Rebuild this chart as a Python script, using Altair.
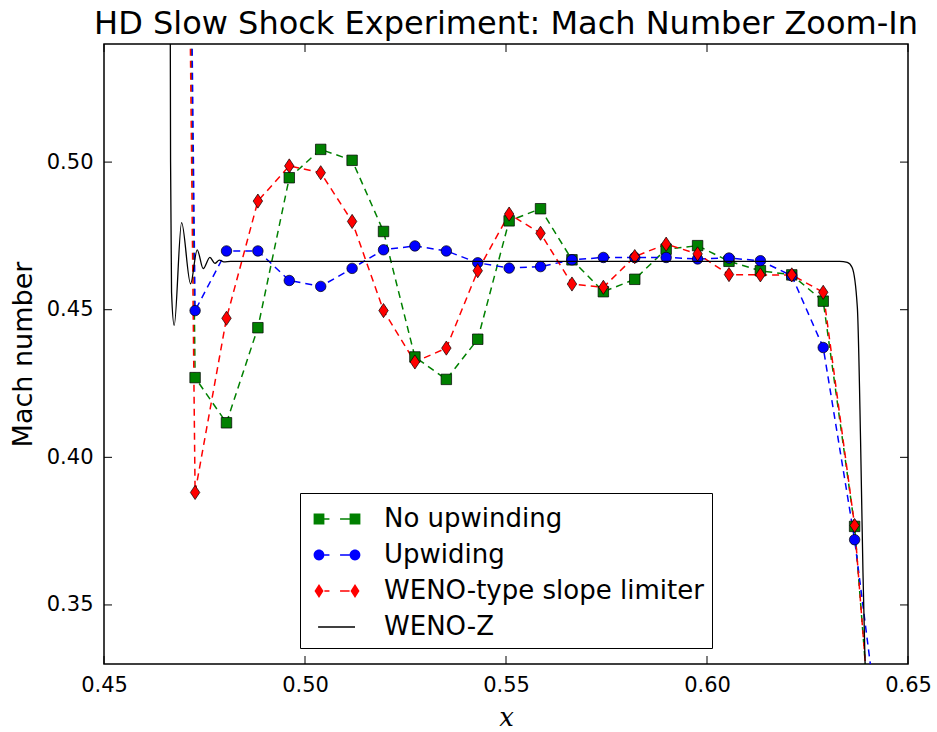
import altair as alt
import pandas as pd

# ---------------- data ----------------
x_grid = [0.46484, 0.47266, 0.48047, 0.48828, 0.49609, 0.50391, 0.51172, 0.51953,
          0.52734, 0.53516, 0.54297, 0.55078, 0.55859, 0.56641, 0.57422, 0.58203,
          0.58984, 0.59766, 0.60547, 0.61328, 0.62109, 0.62891, 0.63672, 0.64453]

no_upwinding = [1.40, 0.4270, 0.4117, 0.4439, 0.4947, 0.5043, 0.5006, 0.4765,
                0.4340, 0.4264, 0.4400, 0.4801, 0.4842, 0.4669, 0.4561, 0.4603,
                0.4705, 0.4717, 0.4664, 0.4632, 0.4618, 0.4529, 0.3766, 0.2400]

upwinding = [1.40, 0.4497, 0.4699, 0.4699, 0.4599, 0.4579, 0.4640, 0.4703,
             0.4716, 0.4699, 0.4659, 0.4641, 0.4646, 0.4669, 0.4677, 0.4677,
             0.4677, 0.4672, 0.4675, 0.4666, 0.4615, 0.4372, 0.3721, 0.2880]

weno_limiter = [1.40, 0.3881, 0.4471, 0.4868, 0.4987, 0.4964, 0.4799, 0.4497,
                0.4323, 0.4370, 0.4632, 0.4824, 0.4759, 0.4587, 0.4576, 0.4680,
                0.4722, 0.4689, 0.4619, 0.4618, 0.4618, 0.4559, 0.3769, 0.2400]

wenoz_x = [0.46640, 0.46656, 0.46680, 0.46746, 0.46930, 0.47154, 0.47318, 0.47468,
           0.47634, 0.47759, 0.47870, 0.47980, 0.48150, 0.63300, 0.63490, 0.63610,
           0.63740, 0.63820, 0.63880, 0.63930, 0.63980]
wenoz_y = [0.600, 0.500, 0.456, 0.4447, 0.4795, 0.4588, 0.4703, 0.4639,
           0.4677, 0.4657, 0.4668, 0.4662, 0.4664, 0.4664, 0.4660, 0.4643,
           0.4508, 0.4058, 0.3610, 0.3317, 0.300]

series_names = ["No upwinding", "Upwiding", "WENO-type slope limiter"]
series_colors = ["#008000", "#0000ff", "#ff0000"]
legend_names = series_names + ["WENO-Z"]
legend_colors = series_colors + ["#000000"]

x_ticks = [0.45, 0.50, 0.55, 0.60, 0.65]
y_ticks = [0.35, 0.40, 0.45, 0.50]

# ---------------- styling ----------------
W, H = 804, 620
FONT = "DejaVu Sans"
marker_shapes = ["square", "circle", "M0,-1.35L0.9,0L0,1.35L-0.9,0Z"]

dash_l = "M-0.7,-0.04L-0.42,-0.04L-0.42,0.04L-0.7,0.04Z"
dash_r = "M0.17,-0.04L0.7,-0.04L0.7,0.04L0.17,0.04Z"
leg_square = ("M-1.3,-0.3L-0.7,-0.3L-0.7,0.3L-1.3,0.3Z " + dash_l + " " + dash_r +
              " M0.7,-0.3L1.3,-0.3L1.3,0.3L0.7,0.3Z")
leg_circle = ("M-0.7,0A0.3,0.3 0 1,0 -1.3,0A0.3,0.3 0 1,0 -0.7,0Z " + dash_l + " " + dash_r +
              " M1.3,0A0.3,0.3 0 1,0 0.7,0A0.3,0.3 0 1,0 1.3,0Z")
leg_diamond = ("M-1,-0.39L-0.75,0L-1,0.39L-1.25,0Z " + dash_l + " " + dash_r +
               " M1,-0.39L1.25,0L1,0.39L0.75,0Z")
leg_line = "M-1.05,-0.035L1.0,-0.035L1.0,0.035L-1.05,0.035Z"
legend_shapes = [leg_square, leg_circle, leg_diamond, leg_line]

# ---------------- tables ----------------
rows = []
for name, vals in zip(series_names, [no_upwinding, upwinding, weno_limiter]):
    for xv, yv in zip(x_grid, vals):
        rows.append({"x": xv, "y": yv, "series": name})
df = pd.DataFrame(rows)
wz = pd.DataFrame({"x": wenoz_x, "y": wenoz_y})
leg_df = pd.DataFrame({"series": legend_names, "x": [None] * 4, "y": [None] * 4})
xt = pd.DataFrame({"x": x_ticks})
yt = pd.DataFrame({"y": y_ticks})

x_scale = alt.Scale(domain=[0.45, 0.65], nice=False, zero=False)
y_scale = alt.Scale(domain=[0.33, 0.54], nice=False, zero=False)

x_axis = alt.Axis(values=x_ticks, format=".2f", tickSize=0, domain=False, grid=False,
                  labelFlush=False, labelOverlap=False,
                  labelFont=FONT, labelFontSize=21, labelColor="black", labelPadding=10,
                  title="x", titleFont="DejaVu Serif", titleFontStyle="italic",
                  titleFontWeight="normal", titleFontSize=26, titleColor="black",
                  titlePadding=9)
y_axis = alt.Axis(values=y_ticks, format=".2f", tickSize=0, domain=False, grid=False,
                  labelFlush=False, labelOverlap=False,
                  labelFont=FONT, labelFontSize=21, labelColor="black", labelPadding=11,
                  title="Mach number", titleFont=FONT, titleFontWeight="normal",
                  titleFontSize=27, titleColor="black", titlePadding=9)

X = alt.X("x:Q", scale=x_scale, axis=x_axis)
Y = alt.Y("y:Q", scale=y_scale, axis=y_axis)

lines = alt.Chart(df).mark_line(strokeDash=[7, 5], strokeWidth=1.5, clip=True).encode(
    x=X, y=Y,
    color=alt.Color("series:N", scale=alt.Scale(domain=series_names, range=series_colors), legend=None),
    detail="series:N",
    order=alt.Order("x:Q"),
)

points = alt.Chart(df).mark_point(filled=True, opacity=1, size=110, stroke="black",
                                  strokeWidth=0.7, clip=True).encode(
    x=X, y=Y,
    fill=alt.Fill("series:N", scale=alt.Scale(domain=series_names, range=series_colors), legend=None),
    shape=alt.Shape("series:N", scale=alt.Scale(domain=series_names, range=marker_shapes), legend=None),
)

wenoz = alt.Chart(wz).mark_line(color="black", strokeWidth=1.3, interpolate="monotone", clip=True).encode(
    x=X, y=Y,
    order=alt.Order("x:Q"),
)

leg = alt.Legend(title=None, orient="none", legendX=196, legendY=449, strokeColor="black",
                 fillColor="white", padding=8, symbolSize=1296, labelFont=FONT,
                 labelFontSize=26, labelColor="black", rowPadding=5, labelOffset=29,
                 symbolOffset=11, symbolStrokeWidth=0, symbolOpacity=1, labelLimit=500)

legend_layer = alt.Chart(leg_df).mark_point(filled=True, opacity=1, size=1296, clip=True).encode(
    x=X, y=Y,
    color=alt.Color("series:N", scale=alt.Scale(domain=legend_names, range=legend_colors), legend=leg),
    shape=alt.Shape("series:N", scale=alt.Scale(domain=legend_names, range=legend_shapes), legend=leg),
)

tick_len = 8
xt_bottom = alt.Chart(xt).mark_rule(color="black", strokeWidth=1).encode(
    x=X, y=alt.value(H), y2=alt.value(H - tick_len))
xt_top = alt.Chart(xt).mark_rule(color="black", strokeWidth=1).encode(
    x=X, y=alt.value(0), y2=alt.value(tick_len))
yt_left = alt.Chart(yt).mark_rule(color="black", strokeWidth=1).encode(
    y=Y, x=alt.value(0), x2=alt.value(tick_len))
yt_right = alt.Chart(yt).mark_rule(color="black", strokeWidth=1).encode(
    y=Y, x=alt.value(W - tick_len), x2=alt.value(W))

chart = alt.layer(
    lines, points, wenoz, xt_bottom, xt_top, yt_left, yt_right, legend_layer
).resolve_scale(
    color="independent", shape="independent", fill="independent"
).properties(
    width=W, height=H,
    title=alt.TitleParams("HD Slow Shock Experiment: Mach Number Zoom-In", font=FONT,
                          fontSize=32, fontWeight="normal", color="black",
                          anchor="middle", frame="group", offset=3),
    autosize=alt.AutoSizeParams(type="none"),
    padding={"left": 104, "top": 44, "right": 29, "bottom": 68},
).configure_view(stroke="black", strokeWidth=1.5)

chart.save("out.html", embed_options={"renderer": "svg", "actions": False})
